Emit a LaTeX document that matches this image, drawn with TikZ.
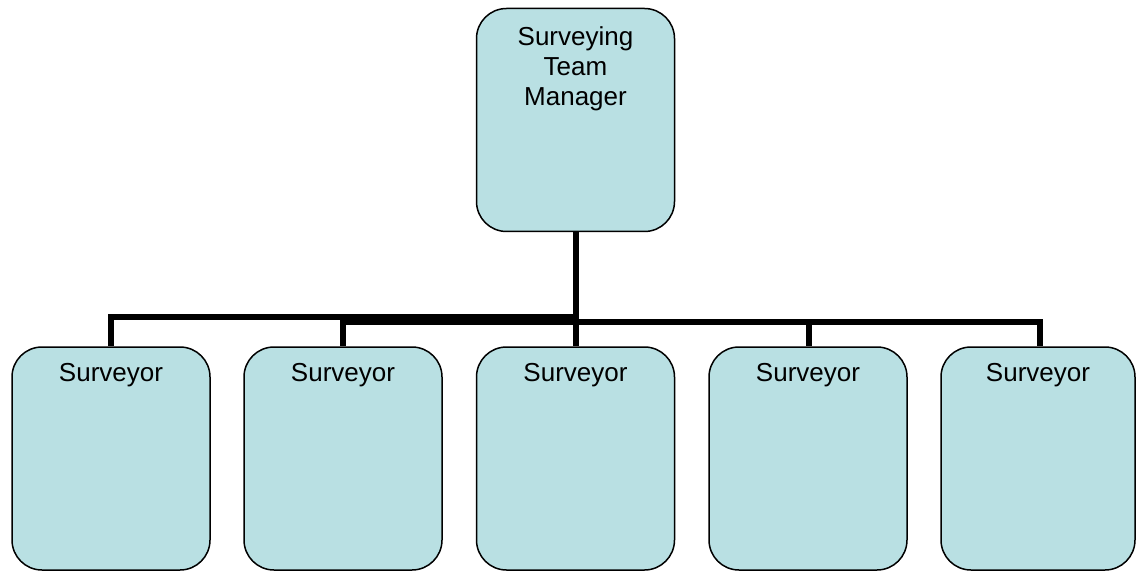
\documentclass[tikz,border=0pt]{standalone}
\usepackage{fontspec}
\setmainfont{Liberation Sans}
\definecolor{boxfill}{RGB}{185,224,227}
\begin{document}
\begin{tikzpicture}[x=1pt,y=-1pt,
  orgbox/.style={draw=black,fill=boxfill,line width=1.5pt,rounded corners=30pt,
    rectangle,minimum width=198pt,minimum height=223pt,inner sep=0pt},
  lbl/.style={font=\fontsize{26pt}{30pt}\selectfont,align=center,inner sep=0pt,anchor=base},
  conn/.style={line width=6pt,draw=black}]
\useasboundingbox (0,0) rectangle (1136,572);
\node[orgbox] (mgr) at (575.5,120) {};
\node[orgbox] (c1) at (111,458.5) {};
\node[orgbox] (c2) at (343,458.5) {};
\node[orgbox] (c3) at (575.5,458.5) {};
\node[orgbox] (c4) at (808,458.5) {};
\node[orgbox,minimum width=194pt] (c5) at (1038,458.5) {};
\coordinate (b1) at (576,317);
\coordinate (b2) at (576,322);
\draw[conn] (mgr.south) -- (c3.north -| mgr.south);
\draw[conn] (b1) -| (c1.north);
\draw[conn] (b2) -| (c2.north);
\draw[conn] (b2) -| ([xshift=1pt]c4.north);
\draw[conn] (b2) -| ([xshift=2pt]c5.north);
\node[lbl] (tm) at ([yshift=-98pt]mgr.north) {Surveying\\Team\\Manager};
\node[lbl] (t1) at ([yshift=-35pt]c1.north) {Surveyor};
\node[lbl] (t2) at ([yshift=-35pt]c2.north) {Surveyor};
\node[lbl] (t3) at ([yshift=-35pt]c3.north) {Surveyor};
\node[lbl] (t4) at ([yshift=-35pt]c4.north) {Surveyor};
\node[lbl] (t5) at ([yshift=-35pt]c5.north) {Surveyor};
\end{tikzpicture}
\end{document}
